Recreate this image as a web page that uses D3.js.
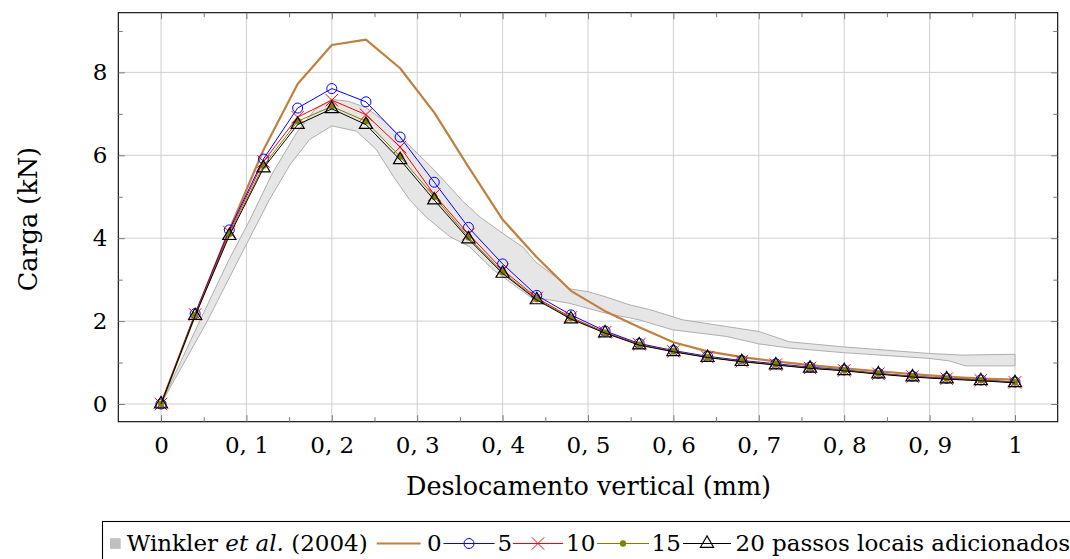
<!DOCTYPE html>
<html><head><meta charset="utf-8">
<script src="https://cdn.jsdelivr.net/npm/d3@7"></script>
<style>
html,body{margin:0;padding:0;background:#fff;}
svg{display:block;font-family:"DejaVu Serif",serif;}
</style>
</head><body>
<svg id="c" width="1070" height="559"></svg>
<script>
// ---------- data ----------
const xVals = [0,0.04,0.08,0.12,0.16,0.2,0.24,0.28,0.32,0.36,0.4,0.44,0.48,0.52,0.56,0.6,0.64,0.68,0.72,0.76,0.8,0.84,0.88,0.92,0.96,1];
const load0  = [0,2.15,4.2,6.13,7.72,8.66,8.79,8.1,7.03,5.72,4.45,3.54,2.73,2.24,1.85,1.49,1.27,1.13,1.03,0.94,0.86,0.79,0.72,0.66,0.61,0.59];
const load5  = [0,2.18,4.2,5.91,7.14,7.61,7.29,6.44,5.35,4.26,3.38,2.62,2.15,1.76,1.46,1.29,1.15,1.05,0.97,0.89,0.82,0.74,0.67,0.62,0.58,0.53];
const load10 = [0,2.16,4.15,5.85,6.92,7.33,6.98,6.2,5.05,4.1,3.24,2.56,2.09,1.73,1.44,1.27,1.13,1.03,0.95,0.87,0.81,0.73,0.66,0.61,0.57,0.52];
const load15 = [0,2.14,4.1,5.75,6.82,7.18,6.82,5.97,5.0,4.02,3.18,2.53,2.07,1.72,1.43,1.27,1.13,1.03,0.95,0.87,0.81,0.73,0.66,0.61,0.57,0.52];
const load20 = [0,2.13,4.06,5.69,6.74,7.12,6.74,5.89,4.92,3.98,3.15,2.51,2.05,1.71,1.42,1.26,1.12,1.02,0.94,0.86,0.80,0.72,0.65,0.60,0.56,0.51];

// Winkler et al. (2004) experimental envelope
const winklerUpperX = [0,0.046,0.08,0.104,0.13,0.159,0.18,0.2,0.22,0.24,0.26,0.28,0.3,0.315,0.334,0.353,0.373,0.4,0.424,0.439,0.46,0.478,0.5,0.52,0.549,0.572,0.611,0.662,0.7,0.736,0.798,0.899,0.938,1.0];
const winklerUpperY = [0,2.03,3.5,4.44,5.55,6.55,7.1,7.35,7.3,7.15,6.85,6.45,6.05,5.75,5.33,4.9,4.52,4.12,3.78,3.42,3.1,2.78,2.71,2.59,2.39,2.28,2.03,1.87,1.75,1.5,1.38,1.22,1.18,1.2];
const winklerLowerX = [0,0.055,0.09,0.127,0.151,0.174,0.2,0.229,0.252,0.272,0.291,0.311,0.338,0.361,0.389,0.432,0.478,0.521,0.56,0.599,0.662,0.7,0.736,0.798,0.899,0.923,0.942,1.0];
const winklerLowerY = [0,2.03,3.45,4.93,5.77,6.38,6.71,6.58,6.14,5.49,4.93,4.5,4.04,3.8,3.24,2.59,2.43,2.19,2.03,1.79,1.63,1.45,1.35,1.24,1.1,1.04,0.92,0.92];

const xTicks = [0,0.1,0.2,0.3,0.4,0.5,0.6,0.7,0.8,0.9,1];
const xTickLabels = ["0","0, 1","0, 2","0, 3","0, 4","0, 5","0, 6","0, 7","0, 8","0, 9","1"];
const xMinorTicks = [0.05,0.15,0.25,0.35,0.45,0.55,0.65,0.75,0.85,0.95];
const yTicks = [0,2,4,6,8];
const yTickLabels = ["0","2","4","6","8"];
const yMinorTicks = [1,3,5,7,9];
const xLabel = "Deslocamento vertical (mm)";
const yLabel = "Carga (kN)";
const legendLabels = ["0","5","10","15","20 passos locais adicionados"];

// ---------- layout ----------
const L = 118.3, R = 1057.7, T = 12.7, B = 421.7;
const x = d3.scaleLinear().domain([-0.05,1.05]).range([L,R]);
const y = d3.scaleLinear().domain([-0.427,9.44]).range([B,T]);
const svg = d3.select("#c");
const FS = 23, FSL = 25.5;

// grid
const grid = svg.append("g");
grid.selectAll(".gx").data(xTicks).join("line")
  .attr("x1",d=>x(d)).attr("x2",d=>x(d)).attr("y1",T).attr("y2",B)
  .attr("stroke","#cfcfcf").attr("stroke-width",1);
grid.selectAll(".gy").data(yTicks).join("line")
  .attr("x1",L).attr("x2",R).attr("y1",d=>y(d)).attr("y2",d=>y(d))
  .attr("stroke","#cfcfcf").attr("stroke-width",1);

// plot clip
svg.append("clipPath").attr("id","clip").append("rect")
  .attr("x",L).attr("y",T).attr("width",R-L).attr("height",B-T);
const plot = svg.append("g").attr("clip-path","url(#clip)");

// band
const upperPts = winklerUpperX.map((v,i)=>[x(v),y(winklerUpperY[i])]);
const lowerPts = winklerLowerX.map((v,i)=>[x(v),y(winklerLowerY[i])]).reverse();
const bandLine = d3.line().curve(d3.curveLinear);
plot.append("path").attr("d", bandLine(upperPts.concat(lowerPts)) + "Z")
  .attr("fill","#e6e6e6").attr("stroke","#a6a6a6").attr("stroke-width",0.9);

const line = d3.line().x(d=>x(d[0])).y(d=>y(d[1]));
function pts(arr){ return xVals.map((v,i)=>[v,arr[i]]); }

const cBrown = "#bf8040", cBlue="#0000ff", cRed="#ff0000", cOlive="#808000", cBlack="#000000";

// series 0
plot.append("path").attr("d",line(pts(load0))).attr("fill","none")
  .attr("stroke",cBrown).attr("stroke-width",2.2).attr("stroke-linejoin","round");

// marker drawing helpers
function circleMark(g,cx,cy){ g.append("circle").attr("cx",cx).attr("cy",cy).attr("r",5)
  .attr("fill","none").attr("stroke",cBlue).attr("stroke-width",1); }
function xMark(g,cx,cy){ const s=6.2; g.append("path")
  .attr("d",`M${cx-s},${cy-s}L${cx+s},${cy+s}M${cx-s},${cy+s}L${cx+s},${cy-s}`)
  .attr("stroke",cRed).attr("stroke-width",1).attr("fill","none"); }
function dotMark(g,cx,cy){ g.append("circle").attr("cx",cx).attr("cy",cy).attr("r",3)
  .attr("fill",cOlive).attr("stroke",cOlive).attr("stroke-width",0.6); }
function triMark(g,cx,cy){ const Rr=7.6; const h=Rr*Math.sqrt(3)/2;
  g.append("path").attr("d",`M${cx},${cy-Rr}L${cx+h},${cy+Rr/2}L${cx-h},${cy+Rr/2}Z`)
  .attr("fill","none").attr("stroke",cBlack).attr("stroke-width",1.2).attr("stroke-linejoin","miter"); }

const series = [
  {data:load5, color:cBlue, mark:circleMark},
  {data:load10, color:cRed, mark:xMark},
  {data:load15, color:cOlive, mark:dotMark},
  {data:load20, color:cBlack, mark:triMark}
];
series.forEach(s=>{
  const g = plot.append("g");
  g.append("path").attr("d",line(pts(s.data))).attr("fill","none")
    .attr("stroke",s.color).attr("stroke-width",1).attr("stroke-linejoin","round");
  pts(s.data).forEach(p=>s.mark(g,x(p[0]),y(p[1])));
});

// frame
svg.append("rect").attr("x",L).attr("y",T).attr("width",R-L).attr("height",B-T)
  .attr("fill","none").attr("stroke","#000").attr("stroke-width",1.1);

// axes
const tickColor = "#7a7a7a";
function styleAxis(g){
  g.select(".domain").remove();
  g.selectAll(".tick line").attr("stroke",tickColor).attr("stroke-width",1);
  g.selectAll("text").attr("font-family","DejaVu Serif").attr("font-size",FS).attr("fill","#000");
}
const axB = svg.append("g").attr("transform",`translate(0,${B})`)
  .call(d3.axisBottom(x).tickValues(xTicks).tickSize(-6.5).tickPadding(15).tickFormat((d,i)=>xTickLabels[i]));
styleAxis(axB);
const axBm = svg.append("g").attr("transform",`translate(0,${B})`)
  .call(d3.axisBottom(x).tickValues(xMinorTicks).tickSize(-4.5).tickFormat(""));
styleAxis(axBm);
const axT = svg.append("g").attr("transform",`translate(0,${T})`)
  .call(d3.axisTop(x).tickValues(xTicks).tickSize(-6.5).tickFormat(""));
styleAxis(axT);
const axTm = svg.append("g").attr("transform",`translate(0,${T})`)
  .call(d3.axisTop(x).tickValues(xMinorTicks).tickSize(-4.5).tickFormat(""));
styleAxis(axTm);
const axL = svg.append("g").attr("transform",`translate(${L},0)`)
  .call(d3.axisLeft(y).tickValues(yTicks).tickSize(-6.5).tickPadding(11).tickFormat((d,i)=>yTickLabels[i]));
styleAxis(axL);
const axLm = svg.append("g").attr("transform",`translate(${L},0)`)
  .call(d3.axisLeft(y).tickValues(yMinorTicks).tickSize(-4.5).tickFormat(""));
styleAxis(axLm);
const axR = svg.append("g").attr("transform",`translate(${R},0)`)
  .call(d3.axisRight(y).tickValues(yTicks).tickSize(-6.5).tickFormat(""));
styleAxis(axR);
const axRm = svg.append("g").attr("transform",`translate(${R},0)`)
  .call(d3.axisRight(y).tickValues(yMinorTicks).tickSize(-4.5).tickFormat(""));
styleAxis(axRm);

// axis labels
svg.append("text").attr("x",(x(0)+x(1))/2 + 0.5).attr("y",495)
  .attr("text-anchor","middle").attr("font-size",FSL).text(xLabel);
svg.append("text").attr("transform",`translate(37,${(T+B)/2+2}) rotate(-90)`)
  .attr("text-anchor","middle").attr("font-size",FSL).text(yLabel);

// legend
const lg = svg.append("g");
lg.append("rect").attr("x",102.5).attr("y",521.5).attr("width",1000).attr("height",100)
  .attr("fill","#fff").attr("stroke","#000").attr("stroke-width",1.1);
const ly = 543.5, lb = 551;
lg.append("rect").attr("x",110).attr("y",ly-5.3).attr("width",10.7).attr("height",10.7).attr("fill","#c0c0c0");
const wt = lg.append("text").attr("x",126.7).attr("y",lb).attr("font-size",FS);
wt.append("tspan").text("Winkler ");
wt.append("tspan").attr("font-style","italic").text("et al.");
wt.append("tspan").text(" (2004)");

const legendItems = [
  {label:legendLabels[0], color:cBrown, w:2.2, x0:376.7, x1:420.7, tx:427, mark:null},
  {label:legendLabels[1], color:cBlue,  w:1,   x0:443.5, x1:494.5, tx:497.5, mark:circleMark},
  {label:legendLabels[2], color:cRed,   w:1,   x0:513,   x1:563,   tx:566, mark:xMark},
  {label:legendLabels[3], color:cOlive, w:1,   x0:597,   x1:649,   tx:651.5, mark:dotMark},
  {label:legendLabels[4], color:cBlack, w:1,   x0:683,   x1:731,   tx:735.5, mark:triMark}
];
legendItems.forEach(it=>{
  lg.append("line").attr("x1",it.x0).attr("x2",it.x1).attr("y1",ly).attr("y2",ly)
    .attr("stroke",it.color).attr("stroke-width",it.w);
  if(it.mark) it.mark(lg,(it.x0+it.x1)/2,ly);
  lg.append("text").attr("x",it.tx).attr("y",lb).attr("font-size",FS).text(it.label);
});
</script>
</body></html>
